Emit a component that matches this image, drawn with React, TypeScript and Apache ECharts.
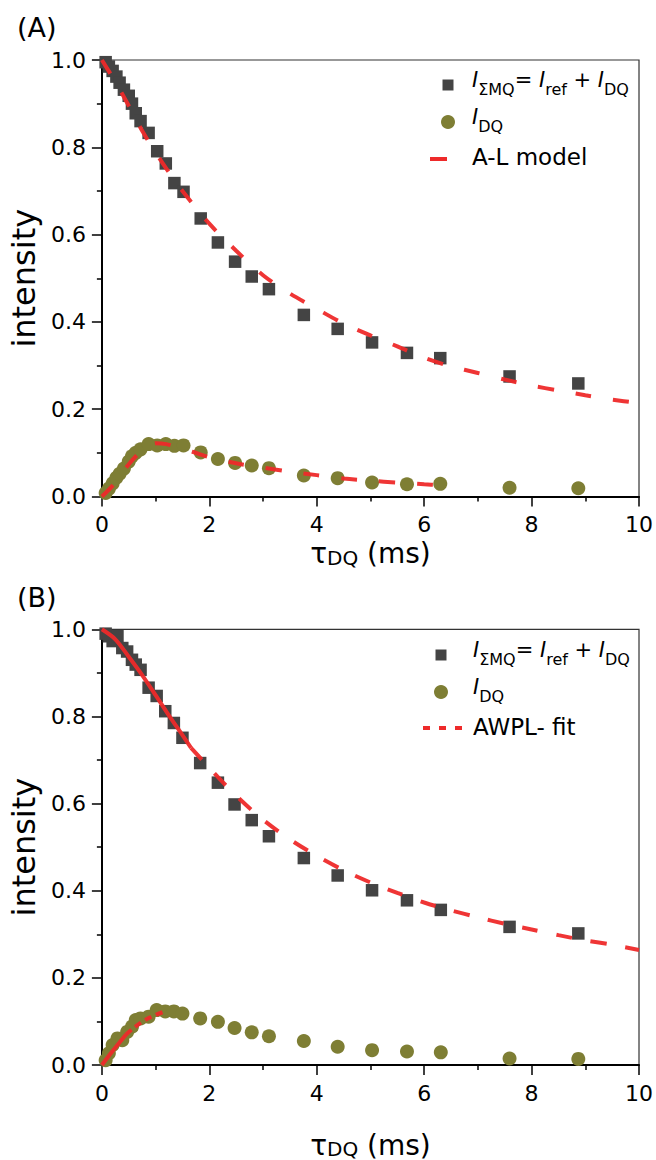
import React, { useEffect, useRef } from "react";
import * as echarts from "echarts";

const FONT = "'DejaVu Sans', 'Liberation Sans', Arial, sans-serif";

// Panel A (A-L model)
const tauA = [0.07, 0.13, 0.2, 0.27, 0.33, 0.41, 0.5, 0.56, 0.63, 0.72, 0.87, 1.03, 1.19, 1.35, 1.52, 1.84, 2.16, 2.48, 2.79, 3.11, 3.76, 4.39, 5.03, 5.68, 6.3, 7.59, 8.87];
const mqA = [0.995, 0.985, 0.975, 0.962, 0.948, 0.932, 0.918, 0.9, 0.878, 0.86, 0.833, 0.791, 0.763, 0.718, 0.698, 0.637, 0.582, 0.538, 0.504, 0.475, 0.416, 0.384, 0.353, 0.329, 0.317, 0.275, 0.259];
const dqA = [0.008, 0.018, 0.03, 0.043, 0.052, 0.064, 0.08, 0.092, 0.1, 0.108, 0.12, 0.117, 0.12, 0.116, 0.117, 0.101, 0.086, 0.077, 0.071, 0.065, 0.048, 0.042, 0.032, 0.028, 0.029, 0.02, 0.019];

const fitMqA_t = [0, 0.25, 0.5, 0.75, 1.0, 1.25, 1.5, 2.0, 2.5, 3.0, 3.5, 4.0, 4.5, 5.0, 5.5, 6.0, 6.5, 7.0, 7.5, 8.0, 8.5, 9.0, 9.5, 10];
const fitMqA_v = [1.0, 0.95, 0.895, 0.838, 0.788, 0.742, 0.7, 0.625, 0.563, 0.507, 0.465, 0.43, 0.396, 0.369, 0.344, 0.318, 0.298, 0.283, 0.268, 0.254, 0.243, 0.232, 0.222, 0.214];
const fitDqA_t = [0, 0.2, 0.4, 0.6, 0.8, 1.0, 1.2, 1.4, 1.7, 2.0, 2.5, 3.0, 3.5, 4.0, 4.5, 5.0, 5.5, 6.0, 6.3];
const fitDqA_v = [0, 0.025, 0.058, 0.088, 0.11, 0.122, 0.12, 0.113, 0.102, 0.09, 0.076, 0.066, 0.057, 0.049, 0.041, 0.036, 0.032, 0.028, 0.026];

// Panel B (AWPL fit)
const tauB = [0.07, 0.13, 0.2, 0.29, 0.38, 0.47, 0.56, 0.63, 0.72, 0.87, 1.02, 1.18, 1.34, 1.5, 1.83, 2.16, 2.47, 2.79, 3.11, 3.76, 4.39, 5.03, 5.68, 6.31, 7.59, 8.87];
const mqB = [0.99, 0.984, 0.973, 0.984, 0.957, 0.949, 0.93, 0.919, 0.907, 0.866, 0.847, 0.812, 0.785, 0.751, 0.693, 0.648, 0.598, 0.562, 0.525, 0.475, 0.435, 0.401, 0.378, 0.356, 0.317, 0.302];
const dqB = [0.011, 0.027, 0.046, 0.061, 0.057, 0.076, 0.088, 0.103, 0.107, 0.111, 0.126, 0.123, 0.123, 0.118, 0.107, 0.099, 0.085, 0.075, 0.066, 0.055, 0.042, 0.034, 0.031, 0.029, 0.015, 0.014];

const fitMqB_solid_t = [0, 0.25, 0.5, 0.75, 1.0, 1.25, 1.5, 1.66];
const fitMqB_solid_v = [1.0, 0.977, 0.937, 0.895, 0.849, 0.802, 0.757, 0.728];
const fitMqB_dash_t = [1.66, 2.0, 2.5, 3.0, 3.5, 4.0, 4.5, 5.0, 5.5, 6.0, 6.5, 7.0, 7.5, 8.0, 8.5, 9.0, 9.5, 10];
const fitMqB_dash_v = [0.728, 0.682, 0.618, 0.563, 0.518, 0.48, 0.447, 0.419, 0.395, 0.373, 0.355, 0.339, 0.324, 0.311, 0.298, 0.286, 0.276, 0.264];
const fitDqB_solid_t = [0, 0.2, 0.45];
const fitDqB_solid_v = [0, 0.032, 0.07];
const fitDqB_dash_t = [0.45, 0.6, 0.8, 1.0, 1.15];
const fitDqB_dash_v = [0.07, 0.086, 0.103, 0.115, 0.122];

const xTicks = { min: 0, max: 10, interval: 2 };
const yTicks = { min: 0, max: 1, interval: 0.2 };

const RED = "#ee2a2a";
const SQ = "#444444";
const OLIVE = "#7e7e34";

const zip = (a: number[], b: number[]) => a.map((v, i) => [v, b[i]]);

export default function App() {
  const ref = useRef<HTMLDivElement>(null);
  useEffect(() => {
    if (!ref.current) return;
    const chart = echarts.init(ref.current, null, { renderer: "svg" });
    const grids = [
      { left: 97.7, top: 60, width: 543.3, height: 436.5 },
      { left: 97.7, top: 629.3, width: 543.3, height: 437.4 },
    ];
    const mkX = (i: number) => ({
      gridIndex: i,
      type: "value",
      ...xTicks,
      name: "{t|τ}{s|DQ}{t| (ms)}",
      nameLocation: "middle",
      nameGap: i === 0 ? 43 : 66,
      nameTextStyle: {
        rich: {
          t: { fontSize: 28, fontFamily: FONT, color: "#000", lineHeight: 28, verticalAlign: "top" },
          s: { fontSize: 20, fontFamily: FONT, color: "#000", lineHeight: 13, verticalAlign: "bottom" },
        },
      },
      axisLine: { show: true, onZero: false, lineStyle: { color: "#000", width: 2 } },
      axisTick: { show: true, length: 10, lineStyle: { color: "#000", width: 1.5 } },
      minorTick: { show: true, splitNumber: 2, length: 5, lineStyle: { color: "#000", width: 1.5 } },
      splitLine: { show: false },
      minorSplitLine: { show: false },
      axisLabel: { fontSize: 22, lineHeight: 22, color: "#000", fontFamily: FONT, margin: 17, showMinLabel: true, showMaxLabel: true },
    });
    const mkY = (i: number) => ({
      gridIndex: i,
      type: "value",
      ...yTicks,
      name: "intensity",
      nameLocation: "middle",
      nameGap: 56,
      nameTextStyle: { fontSize: 32, fontFamily: FONT, color: "#000" },
      axisLine: { show: true, onZero: false, lineStyle: { color: "#000", width: 2 } },
      axisTick: { show: true, length: 10, lineStyle: { color: "#000", width: 1.5 } },
      minorTick: { show: true, splitNumber: 2, length: 5, lineStyle: { color: "#000", width: 1.5 } },
      splitLine: { show: false },
      axisLabel: {
        fontSize: 22, color: "#000", fontFamily: FONT, margin: 16,
        formatter: (v: number) => v.toFixed(1),
      },
    });
    const scat = (name: string, i: number, t: number[], v: number[], sym: string) => ({
      name, type: "scatter", xAxisIndex: i, yAxisIndex: i,
      symbol: sym, symbolSize: sym === "rect" ? 12.5 : 14,
      itemStyle: { color: sym === "rect" ? SQ : OLIVE, opacity: 1 },
      data: zip(t, v), z: 2,
    });
    const fit = (name: string, i: number, t: number[], v: number[], type: any) => ({
      name, type: "line", xAxisIndex: i, yAxisIndex: i,
      showSymbol: false, symbol: "none", smooth: 0.3,
      lineStyle: { color: RED, width: 4, type, opacity: 0.95 },
      data: zip(t, v), z: 5, silent: true,
    });
    const legendRich = {
      i: { fontSize: 21, fontStyle: "italic", fontFamily: FONT, fill: "#000", lineHeight: 28, verticalAlign: "top" },
      n: { fontSize: 21, fontFamily: FONT, fill: "#000", lineHeight: 28, verticalAlign: "top" },
      s: { fontSize: 16, fontFamily: FONT, fill: "#000", lineHeight: 18, verticalAlign: "bottom" },
    };
    const legendGroup = (sqX: number, y1: number, y2: number, y3: number, textX: number, lineEl: any, label: string) => [
      { type: "rect", shape: { x: sqX - 5.5, y: y1 - 5.5, width: 11, height: 11 }, style: { fill: SQ } },
      { type: "circle", shape: { cx: sqX, cy: y2, r: 7 }, style: { fill: OLIVE } },
      lineEl,
      {
        type: "text", x: textX, y: y1 - 16,
        style: { text: "{i|I}{s|ΣMQ}{n|= }{i|I}{s|ref}{n| + }{i|I}{s|DQ}", rich: legendRich, verticalAlign: "top" },
      },
      {
        type: "text", x: textX, y: y2 - 16,
        style: { text: "{i|I}{s|DQ}", rich: legendRich, verticalAlign: "top" },
      },
      {
        type: "text", x: textX, y: y3,
        style: { text: label, fontSize: 23, fontFamily: FONT, fill: "#000", verticalAlign: "middle" },
      },
    ];
    const option: any = {
      animation: false,
      backgroundColor: "#fff",
      grid: grids.map((g) => ({ ...g, show: true, borderColor: "#333", borderWidth: 1.2, backgroundColor: "transparent" })),
      xAxis: [mkX(0), mkX(1)],
      yAxis: [mkY(0), mkY(1)],
      series: [
        scat("I_ΣMQ (A)", 0, tauA, mqA, "rect"),
        scat("I_DQ (A)", 0, tauA, dqA, "circle"),
        fit("A-L model ΣMQ", 0, fitMqA_t, fitMqA_v, [16, 22]),
        fit("A-L model DQ", 0, fitDqA_t, fitDqA_v, [16, 22]),
        scat("I_ΣMQ (B)", 1, tauB, mqB, "rect"),
        scat("I_DQ (B)", 1, tauB, dqB, "circle"),
        fit("AWPL fit ΣMQ", 1, fitMqB_solid_t, fitMqB_solid_v, "solid"),
        fit("AWPL fit ΣMQ ext", 1, fitMqB_dash_t, fitMqB_dash_v, [16, 19]),
        fit("AWPL fit DQ", 1, fitDqB_solid_t, fitDqB_solid_v, "solid"),
        fit("AWPL fit DQ ext", 1, fitDqB_dash_t, fitDqB_dash_v, [7, 5]),
      ],
      graphic: [
        { type: "text", x: 17, y: 14, style: { text: "(A)", fontSize: 27, fontFamily: FONT, fill: "#000" } },
        { type: "text", x: 17, y: 584, style: { text: "(B)", fontSize: 27, fontFamily: FONT, fill: "#000" } },
        ...legendGroup(448, 85, 122, 157, 472,
          { type: "line", shape: { x1: 430, y1: 159, x2: 447, y2: 159 }, style: { stroke: RED, lineWidth: 4 } },
          "A-L model"),
        ...legendGroup(441, 655, 692, 727, 473,
          { type: "line", shape: { x1: 423, y1: 728, x2: 462, y2: 728 }, style: { stroke: RED, lineWidth: 4, lineDash: [7, 9] } },
          "AWPL- fit"),
      ],
    };
    chart.setOption(option);
    return () => chart.dispose();
  }, []);
  return (
    <div
      ref={ref}
      style={{ position: "absolute", left: 0, top: 0, width: 656, height: 1160, background: "#fff" }}
    />
  );
}
